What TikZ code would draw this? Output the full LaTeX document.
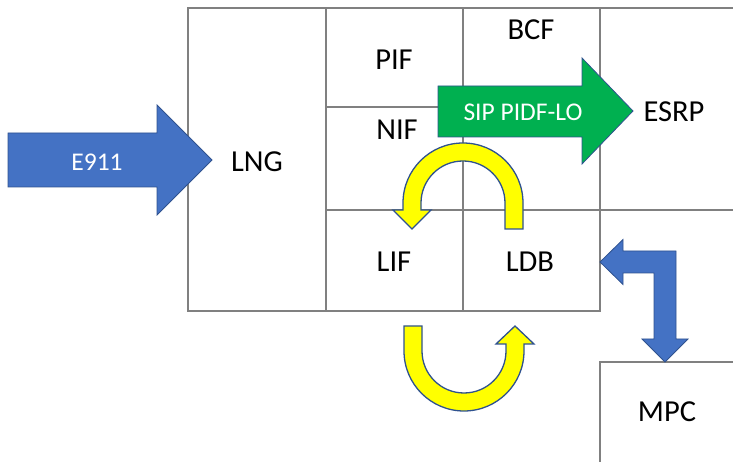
\documentclass[tikz,border=0pt]{standalone}
\usepackage{fontspec}
\setmainfont{Carlito}
\definecolor{gridgray}{HTML}{808080}
\definecolor{arrblue}{HTML}{4472C4}
\definecolor{edgeblue}{HTML}{2F528F}
\definecolor{arrgreen}{HTML}{00B050}
\definecolor{arryellow}{HTML}{FFFF00}
\begin{document}
\begin{tikzpicture}[x=1pt,y=1pt,
  gridline/.style={draw=gridgray,line width=1.2pt},
  lbl/.style={font=\fontsize{30.5}{32}\selectfont,text=black,inner sep=0pt},
  wlbl/.style={font=\fontsize{25.5}{27}\selectfont,text=white,inner sep=0pt},
  bluearrow/.style={fill=arrblue,draw=edgeblue,line width=0.8pt,line join=miter},
  greenarrow/.style={fill=arrgreen,draw=edgeblue,line width=0.8pt,line join=miter},
  yellowarrow/.style={fill=arryellow,draw=edgeblue,line width=1.3pt,line join=miter}]
\useasboundingbox (0,0) rectangle (733,462);
% grid
\draw[gridline] (188,151) rectangle (600,454);
\draw[gridline] (326,151) -- (326,454);
\draw[gridline] (463,151) -- (463,454);
\draw[gridline] (326,355) -- (463,355);
\draw[gridline] (326,252) -- (733,252);
\draw[gridline] (600,454) -- (733,454);
\draw[gridline] (733,100) -- (600,100) -- (600,0);
% E911 arrow
\draw[bluearrow] (8,329) -- (157,329) -- (157,357) -- (212,302) -- (157,247) -- (157,275) -- (8,275) -- cycle;
% SIP PIDF-LO arrow
\draw[greenarrow] (438,376) -- (582,376) -- (582,404) -- (633,351) -- (582,298) -- (582,325) -- (438,325) -- cycle;
% bent arrow LDB <-> MPC
\draw[bluearrow] (600,200) -- (623,222.5) -- (623,211) -- (676,211) -- (676,123) -- (688,123) -- (665,100) -- (642,123) -- (654,123) -- (654,189) -- (623,189) -- (623,177.5) -- cycle;
% upper U-turn arrow
\draw[yellowarrow] (523,233) -- (523,259) arc[start angle=0,end angle=180,radius=60] -- (403,252) -- (393,252) -- (412,233) -- (431,252) -- (421,252) -- (421,259) arc[start angle=180,end angle=0,radius=42] -- (505,233) -- cycle;
% lower U-turn arrow
\draw[yellowarrow] (404,136) -- (404,111) arc[start angle=180,end angle=360,radius=60] -- (524,118) -- (534,118) -- (515,136) -- (496,118) -- (506,118) -- (506,111) arc[start angle=0,end angle=-180,radius=42] -- (422,136) -- cycle;
% labels
\node[lbl] (lng) at (257,300) {LNG};
\node[lbl] (pif) at (394,402) {PIF};
\node[lbl] (bcf) at (531,432) {BCF};
\node[lbl] (nif) at (397,332) {NIF};
\node[lbl] (esrp) at (674,350) {ESRP};
\node[lbl] (lif) at (394,200) {LIF};
\node[lbl] (ldb) at (530,200) {LDB};
\node[lbl] (mpc) at (667,50) {MPC};
\node[wlbl] (e911) at (97,300) {E911};
\node[wlbl] (sip) at (523,350) {SIP PIDF-LO};
\end{tikzpicture}
\end{document}
